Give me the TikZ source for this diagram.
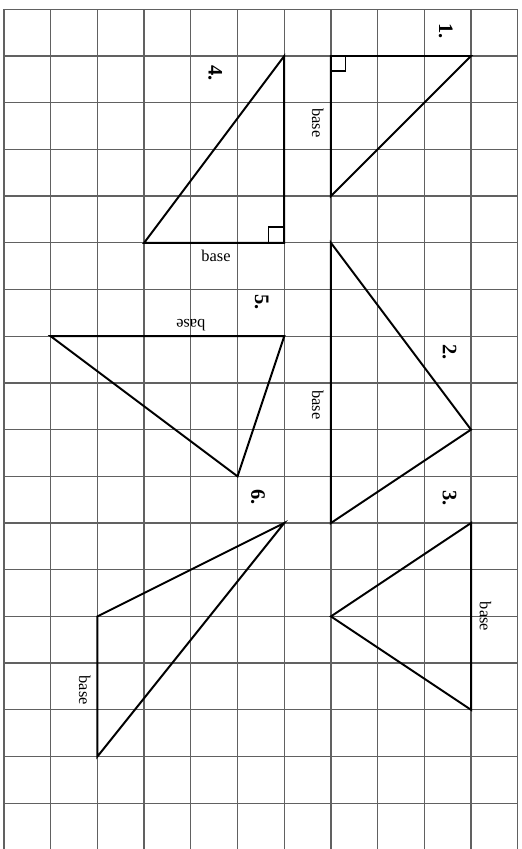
\documentclass[tikz,border=0pt]{standalone}
\usepackage{fontspec}
\setmainfont{Liberation Serif}
\usetikzlibrary{calc}
\begin{document}
\begin{tikzpicture}[x=1cm,y=-1cm,
  gridline/.style={draw=black!62,line width=0.8pt},
  tri/.style={draw=black,line width=1.2pt,line join=miter},
  rmark/.style={draw=black,line width=0.7pt},
  numlabel/.style={font=\fontsize{12.5}{12.5}\selectfont\bfseries,inner sep=0pt},
  baselabel/.style={font=\fontsize{10}{10}\selectfont,inner sep=0pt}]
\useasboundingbox[fill=white] (-0.086,-0.199) rectangle (11.085,17.98);
% grid
\foreach \i in {0,...,11} \draw[gridline] (\i,0) -- (\i,17.98);
\foreach \j in {0,...,17} \draw[gridline] (0,\j) -- (11,\j);
% vertices
\coordinate (a1) at (10,1); \coordinate (b1) at (7,1); \coordinate (c1) at (7,4);
\coordinate (a2) at (7,5); \coordinate (b2) at (7,11); \coordinate (c2) at (10,9);
\coordinate (a3) at (10,11); \coordinate (b3) at (7,13); \coordinate (c3) at (10,15);
\coordinate (a4) at (6,1); \coordinate (b4) at (6,5); \coordinate (c4) at (3,5);
\coordinate (a5) at (6,7); \coordinate (b5) at (1,7); \coordinate (c5) at (5,10);
\coordinate (a6) at (6,11); \coordinate (b6) at (2,13); \coordinate (c6) at (2,16);
% triangles
\draw[tri] (a1) -- (b1) -- (c1) -- cycle;
\draw[tri] (a2) -- (b2) -- (c2) -- cycle;
\draw[tri] (a3) -- (b3) -- (c3) -- cycle;
\draw[tri] (a4) -- (b4) -- (c4) -- cycle;
\draw[tri] (a5) -- (b5) -- (c5) -- cycle;
\draw[tri] (a6) -- (b6) -- (c6) -- cycle;
% right angle marks
\draw[rmark] ($(b1)+(0.32,0)$) -- ++(0,0.32) -- ++(-0.32,0);
\draw[rmark] ($(b4)+(-0.34,0)$) -- ++(0,-0.34) -- ++(0.34,0);
% number labels
\node[numlabel,rotate=-90] (n1) at (9.46,0.47) {1.};
\node[numlabel,rotate=-90] (n2) at (9.54,7.34) {2.};
\node[numlabel,rotate=-90] (n3) at (9.54,10.47) {3.};
\node[numlabel,rotate=-90] (n4) at (4.52,1.36) {4.};
\node[numlabel,rotate=-90] (n5) at (5.52,6.27) {5.};
\node[numlabel,rotate=-90] (n6) at (5.44,10.44) {6.};
% base labels
\node[baselabel,rotate=-90] (s1) at (6.72,2.43) {base};
\node[baselabel,rotate=-90] (s2) at (6.72,8.47) {base};
\node[baselabel,rotate=-90] (s3) at (10.31,13.0) {base};
\node[baselabel] (s4) at (4.54,5.28) {base};
\node[baselabel,rotate=180] (s5) at (4.0,6.76) {base};
\node[baselabel,rotate=-90] (s6) at (1.73,14.58) {base};
\end{tikzpicture}
\end{document}
